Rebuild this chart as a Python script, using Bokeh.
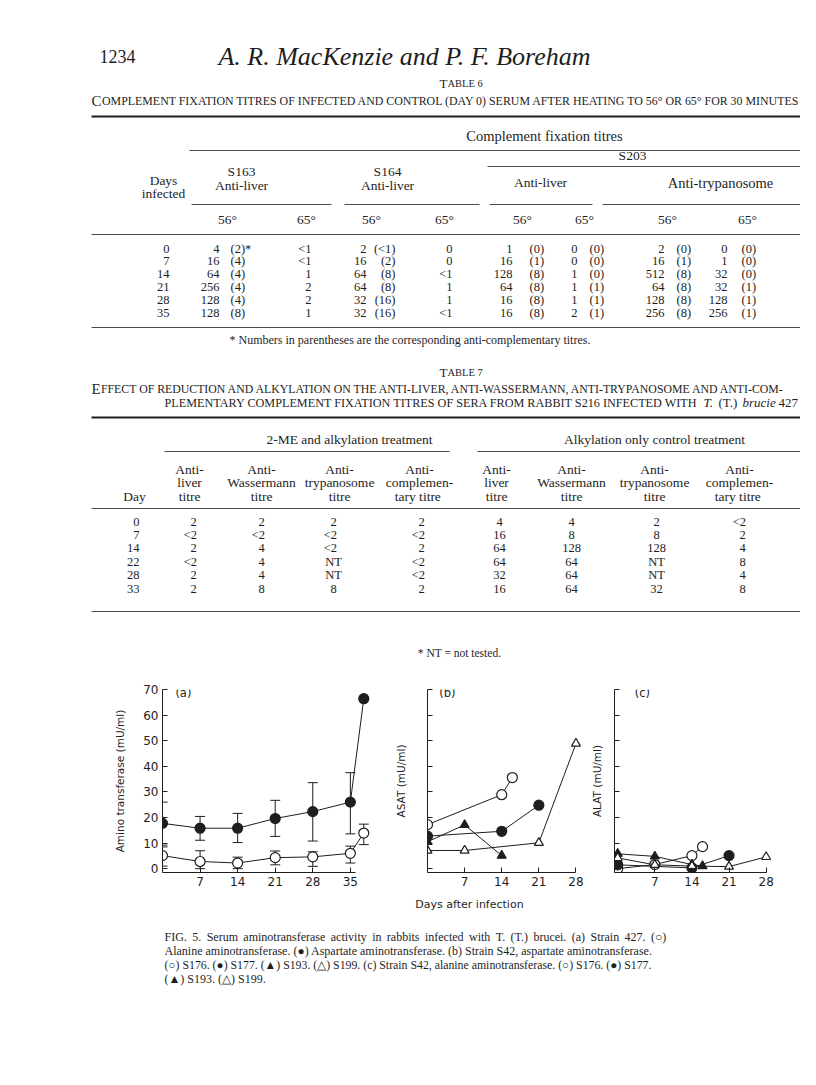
from bokeh.plotting import figure
from bokeh.layouts import column, row
from bokeh.models import (Range1d, FixedTicker, Whisker, TeeHead, ColumnDataSource,
                          CustomJSTickFormatter)
from bokeh.core.properties import value
from bokeh.embed import file_html
from bokeh.resources import INLINE

# ---------------- Table 6 data ----------------
t6_days = ["0", "7", "14", "21", "28", "35"]
t6_s163_56 = ["4", "16", "64", "256", "128", "128"]
t6_s163_56_ac = ["(2)", "(4)", "(4)", "(4)", "(4)", "(8)"]
t6_s163_65 = ["<1", "<1", "1", "2", "2", "1"]
t6_s164_56 = ["2", "16", "64", "64", "32", "32"]
t6_s164_56_ac = ["(<1)", "(2)", "(8)", "(8)", "(16)", "(16)"]
t6_s164_65 = ["0", "0", "<1", "1", "1", "<1"]
t6_s203_liver_56 = ["1", "16", "128", "64", "16", "16"]
t6_s203_liver_56_ac = ["(0)", "(1)", "(8)", "(8)", "(8)", "(8)"]
t6_s203_liver_65 = ["0", "0", "1", "1", "1", "2"]
t6_s203_liver_65_ac = ["(0)", "(0)", "(0)", "(1)", "(1)", "(1)"]
t6_s203_tryp_56 = ["2", "16", "512", "64", "128", "256"]
t6_s203_tryp_56_ac = ["(0)", "(1)", "(8)", "(8)", "(8)", "(8)"]
t6_s203_tryp_65 = ["0", "1", "32", "32", "128", "256"]
t6_s203_tryp_65_ac = ["(0)", "(0)", "(0)", "(1)", "(1)", "(1)"]

# ---------------- Table 7 data ----------------
t7_day = ["0", "7", "14", "22", "28", "33"]
t7_me_liver = ["2", "<2", "2", "<2", "2", "2"]
t7_me_wass = ["2", "<2", "4", "4", "4", "8"]
t7_me_tryp = ["2", "<2", "<2", "NT", "NT", "8"]
t7_me_comp = ["2", "<2", "2", "<2", "<2", "2"]
t7_alk_liver = ["4", "16", "64", "64", "32", "16"]
t7_alk_wass = ["4", "8", "128", "64", "64", "64"]
t7_alk_tryp = ["2", "8", "128", "NT", "NT", "32"]
t7_alk_comp = ["<2", "2", "4", "8", "4", "8"]

# ---------------- Fig. 5 data ----------------
# (a) strain 427
a_days = [0, 7, 14, 21, 28, 35, 37.5]
a_alat = [5.1, 2.8, 2.2, 4.3, 4.6, 6.0, 13.9]
a_alat_hi = [9.2, 7.0, 4.5, 6.9, 6.6, 8.8, 17.4]
a_alat_lo = [1.0, 0.0, 0.0, 1.5, 0.9, 2.2, 9.4]
a_asat = [17.7, 15.8, 15.8, 19.6, 22.3, 26.0, 66.4]
a_asat_hi = [26.0, 20.4, 21.6, 26.7, 33.6, 37.5]
a_asat_lo = [8.5, 11.1, 10.2, 12.6, 10.8, 13.6]
# (b) strain S42, ASAT
b_s176_x = [0, 14, 16]
b_s176_y = [17.2, 28.9, 35.6]
b_s177_x = [0, 14, 21]
b_s177_y = [12.7, 14.6, 24.8]
b_s193_x = [0, 7, 14]
b_s193_y = [10.5, 17.1, 5.1]
b_s199_x = [0, 7, 21, 28]
b_s199_y = [7.1, 7.1, 10.1, 48.9]
# (c) strain S42, ALAT
c_s176_x = [0, 7, 14, 16]
c_s176_y = [0.0, 1.6, 5.1, 8.6]
c_s177_x = [0, 14, 21]
c_s177_y = [1.5, 0.3, 5.1]
c_s193_x = [0, 7, 14, 16]
c_s193_y = [5.8, 4.8, 1.6, 1.0]
c_s199_x = [0, 7, 14, 21, 28]
c_s199_y = [4.2, 1.5, 1.0, 0.8, 4.6]

y_ticks = [0, 10, 20, 30, 40, 50, 60, 70]
x_ticks = [7, 14, 21, 28, 35]

SERIF = "Liberation Serif"
SANS = "DejaVu Sans"
INK = "#1e1e1e"
HEAD = 13.5   # table header text
BODY = 12.5   # table body text
THIN = "\u2009"


def page_fig(width, height, y_top, y_bot):
    p = figure(width=width, height=height, x_range=Range1d(8, 8 + width),
               y_range=Range1d(y_bot, y_top), x_axis_type=None, y_axis_type=None,
               toolbar_location=None, output_backend="svg", min_border=0,
               outline_line_color=None)
    return p


def put(p, x, y, s, size=12, align="left", style="normal", font=SERIF):
    p.text(x=[x], y=[y], text=[s], text_font=value(font), text_font_size=f"{size}px",
           text_align=align, text_baseline="middle", text_font_style=style,
           text_color=INK)


def colm(p, x, ys, texts, align="right", size=BODY):
    src = ColumnDataSource(dict(x=[x] * len(ys), y=ys, t=texts))
    p.text(x="x", y="y", text="t", source=src, text_font=value(SERIF),
           text_font_size=f"{size}px", text_align=align, text_baseline="middle",
           text_color=INK)


def rule(p, x0, x1, y, w=0.8):
    p.segment(x0=[x0], y0=[y], x1=[x1], y1=[y], line_width=w, line_color=INK)


def widen(s, n):
    """Add a thin space to the first n word gaps (imitates justified setting)."""
    parts = s.split(" ")
    out = parts[0]
    for i, w in enumerate(parts[1:]):
        out += (" " + THIN if i < n else " ") + w
    return out


# ======================= top part (header + tables) =======================
top = page_fig(800, 661, 8, 669)
put(top, 107, 64, "1234", 18)
put(top, 412, 64, "A. R. MacKenzie and P. F. Boreham", 26, "center", "italic")

# ---- Table 6
put(top, 455, 91, "T", 13, "right")
put(top, 455, 91, "ABLE 6", 10.5, "left")
put(top, 99, 108, "C", 15)
put(top, 109.5, 108, "OMPLEMENT FIXATION TITRES OF INFECTED AND CONTROL (DAY 0) SERUM AFTER "
    "HEATING TO 56° OR 65° FOR 30 MINUTES", 11.9)
rule(top, 99, 812, 124, 2.0)
put(top, 552, 143, "Complement fixation titres", 14.5, "center")
rule(top, 197, 812, 158)
put(top, 249, 179, "S163", HEAD, "center")
put(top, 249, 193, "Anti-liver", HEAD, "center")
put(top, 395, 179, "S164", HEAD, "center")
put(top, 395, 193, "Anti-liver", HEAD, "center")
put(top, 640, 163, "S203", HEAD, "center")
rule(top, 495, 812, 174)
put(top, 548, 190, "Anti-liver", HEAD, "center")
put(top, 728, 190, "Anti-trypanosome", 14.5, "center")
put(top, 171, 188, "Days", HEAD, "center")
put(top, 171, 201, "infected", HEAD, "center")
for a, b in [(199, 339), (352, 487), (497, 600), (610, 812)]:
    rule(top, a, b, 212)
for xc, lab in [(235, "56°"), (314, "65°"), (379, "56°"), (452, "65°"),
                (530, "56°"), (592, "65°"), (675, "56°"), (755, "65°")]:
    put(top, xc, 227, lab, HEAD, "center")
rule(top, 99, 812, 242)
ys6 = [256 + 12.8 * i for i in range(6)]
colm(top, 177, ys6, t6_days)
colm(top, 227, ys6, t6_s163_56)
colm(top, 238, ys6, [t6_s163_56_ac[0] + "*"] + t6_s163_56_ac[1:], "left")
colm(top, 319, ys6, t6_s163_65)
colm(top, 374, ys6, t6_s164_56)
colm(top, 403, ys6, t6_s164_56_ac)
colm(top, 460, ys6, t6_s164_65)
colm(top, 520, ys6, t6_s203_liver_56)
colm(top, 537, ys6, t6_s203_liver_56_ac, "left")
colm(top, 585, ys6, t6_s203_liver_65)
colm(top, 597, ys6, t6_s203_liver_65_ac, "left")
colm(top, 672, ys6, t6_s203_tryp_56)
colm(top, 684, ys6, t6_s203_tryp_56_ac, "left")
colm(top, 735, ys6, t6_s203_tryp_65)
colm(top, 749, ys6, t6_s203_tryp_65_ac, "left")
rule(top, 99, 812, 335)
put(top, 237, 347, "* Numbers in parentheses are the corresponding anti-complementary titres.", 12)

# ---- Table 7
put(top, 455, 380, "T", 13, "right")
put(top, 455, 380, "ABLE 7", 10.5, "left")
put(top, 99, 396, "E", 15)
put(top, 108.5, 396, "FFECT OF REDUCTION AND ALKYLATION ON THE ANTI-LIVER, ANTI-WASSERMANN, "
    "ANTI-TRYPANOSOME AND ANTI-COM-", 11.8)
put(top, 706, 410, "PLEMENTARY COMPLEMENT FIXATION TITRES OF SERA FROM RABBIT S216 "
    "INFECTED WITH", 12.2, "right")
put(top, 711, 410, "T.", 13, "left", "italic")
put(top, 726, 410, "(T.)", 13, "left")
put(top, 750, 410, "brucie", 13, "left", "italic")
put(top, 786, 410, "427", 13, "left")
rule(top, 99, 812, 425, 2.0)
put(top, 357, 447, "2-ME and alkylation treatment", HEAD, "center")
put(top, 662, 447, "Alkylation only control treatment", HEAD, "center")
rule(top, 172, 457, 459)
rule(top, 485, 812, 459)
heads = [(197, "Anti-", "liver", "titre"), (269, "Anti-", "Wassermann", "titre"),
         (347, "Anti-", "trypanosome", "titre"), (427, "Anti-", "complemen-", "tary  titre"),
         (504, "Anti-", "liver", "titre"), (579, "Anti-", "Wassermann", "titre"),
         (662, "Anti-", "trypanosome", "titre"), (747, "Anti-", "complemen-", "tary  titre")]
for xc, l1, l2, l3 in heads:
    put(top, xc, 477, l1, HEAD, "center")
    put(top, xc, 490, l2, HEAD, "center")
    put(top, xc, 504, l3, HEAD, "center")
put(top, 142, 504, "Day", HEAD, "center")
rule(top, 99, 812, 516)
ys7 = [529 + 13.4 * i for i in range(6)]
colm(top, 147, ys7, t7_day)
for xc, vals in [(201, t7_me_liver), (269, t7_me_wass), (341, t7_me_tryp), (429, t7_me_comp),
                 (507, t7_alk_liver), (579, t7_alk_wass), (664, t7_alk_tryp), (750, t7_alk_comp)]:
    lt = [(y, v) for y, v in zip(ys7, vals) if v.startswith("<")]
    ot = [(y, v) for y, v in zip(ys7, vals) if not v.startswith("<")]
    if ot:
        colm(top, xc, [y for y, _ in ot], [v for _, v in ot], "center")
    if lt:
        colm(top, xc + 3.5, [y for y, _ in lt], [v for _, v in lt], "right")
rule(top, 99, 812, 619)
put(top, 467, 660, "* NT = not tested.", 11.5, "center")


# ======================= Fig. 5 panels =======================
def panel(x_start, x_end, frame_w, b_left, b_right, x_bound, ylabel, show_ylabels,
          lab_standoff):
    p = figure(frame_width=frame_w, frame_height=183, x_range=Range1d(x_start, x_end),
               y_range=Range1d(-1.5, 70), min_border_left=b_left, min_border_right=b_right,
               min_border_top=28, min_border_bottom=26, toolbar_location=None,
               output_backend="svg", outline_line_color=None)
    p.grid.visible = False
    p.xaxis.ticker = FixedTicker(ticks=x_ticks)
    p.xaxis.bounds = (x_start, x_bound)
    p.yaxis.ticker = FixedTicker(ticks=y_ticks)
    p.yaxis.bounds = (-1.5, 70)
    for ax in p.axis:
        ax.major_tick_in = 5
        ax.major_tick_out = 0
        ax.minor_tick_in = 0
        ax.minor_tick_out = 0
        ax.axis_line_color = INK
        ax.major_tick_line_color = INK
        ax.major_label_text_font = SANS
        ax.major_label_text_font_size = "12px"
        ax.major_label_text_color = INK
        ax.major_label_standoff = 4
        ax.axis_label_text_font = SANS
        ax.axis_label_text_font_style = "normal"
        ax.axis_label_text_color = INK
    p.yaxis.axis_label = ylabel
    p.yaxis.axis_label_text_font_size = "10.5px"
    p.yaxis.axis_label_standoff = lab_standoff
    if not show_ylabels:
        p.yaxis.formatter = CustomJSTickFormatter(code="return ''")
        p.yaxis.major_label_standoff = 0
    return p


def series(p, xs, ys, marker, filled, size=10):
    p.line(xs, ys, line_color=INK, line_width=1)
    p.scatter(xs, ys, marker=marker, size=size, line_color=INK, line_width=1.2,
              fill_color=INK if filled else "white")


def tag(p, x, s):
    p.text(x=[x], y=[68.5], text=[s], text_font=value(SANS), text_font_size="11.5px",
           text_baseline="middle", text_color=INK)


pa = panel(0, 39.5, 212, 162, 14, 36, "Amino transferase (mU/ml)", True, 14)
ea = ColumnDataSource(dict(x=a_days[:6], hi=a_asat_hi, lo=a_asat_lo))
pa.add_layout(Whisker(base="x", upper="hi", lower="lo", source=ea, line_color=INK,
                      upper_head=TeeHead(size=10, line_color=INK),
                      lower_head=TeeHead(size=10, line_color=INK)))
ela = ColumnDataSource(dict(x=a_days, hi=a_alat_hi, lo=a_alat_lo))
pa.add_layout(Whisker(base="x", upper="hi", lower="lo", source=ela, line_color=INK,
                      upper_head=TeeHead(size=10, line_color=INK),
                      lower_head=TeeHead(size=10, line_color=INK)))
series(pa, a_days, a_asat, "circle", True)
series(pa, a_days, a_alat, "circle", False)
tag(pa, 2.4, "(a)")

pb = panel(0, 29.8, 158, 39, 0, 28, "ASAT (mU/ml)", False, 21)
series(pb, b_s176_x, b_s176_y, "circle", False)
series(pb, b_s177_x, b_s177_y, "circle", True)
series(pb, b_s193_x, b_s193_y, "triangle", True, 9)
series(pb, b_s199_x, b_s199_y, "triangle", False, 9)
tag(pb, 2.2, "(b)")

pc = panel(-0.6, 29.2, 158, 29, 14, 28, "ALAT (mU/ml)", False, 12)
series(pc, c_s176_x, c_s176_y, "circle", False)
series(pc, c_s177_x, c_s177_y, "circle", True)
series(pc, c_s193_x, c_s193_y, "triangle", True, 9)
series(pc, c_s199_x, c_s199_y, "triangle", False, 9)
tag(pc, 3.2, "(c)")

# ======================= bottom part (axis title + caption) =======================
bot = page_fig(800, 171, 906, 1077)
put(bot, 477, 912, "Days after infection", 11, "center", font=SANS)
cap = [
    "FIG. 5. Serum aminotransferase activity in rabbits infected with T. (T.) brucei. (a) Strain 427. (○)",
    "Alanine aminotransferase. (●) Aspartate aminotransferase. (b) Strain S42, aspartate aminotransferase.",
    "(○) S176. (●) S177. (▲) S193. (△) S199. (c) Strain S42, alanine aminotransferase. (○) S176. (●) S177.",
    "(▲) S193. (△) S199.",
]
cap_sizes = [12.0, 12.0, 11.8, 12.0]
for i, line in enumerate(cap):
    s = widen(line, 15) if i == 0 else line
    put(bot, 172, 944 + 14 * i, s, cap_sizes[i])

layout = column(top, row(pa, pb, pc), bot)
open("out.html", "w").write(file_html(layout, INLINE))
